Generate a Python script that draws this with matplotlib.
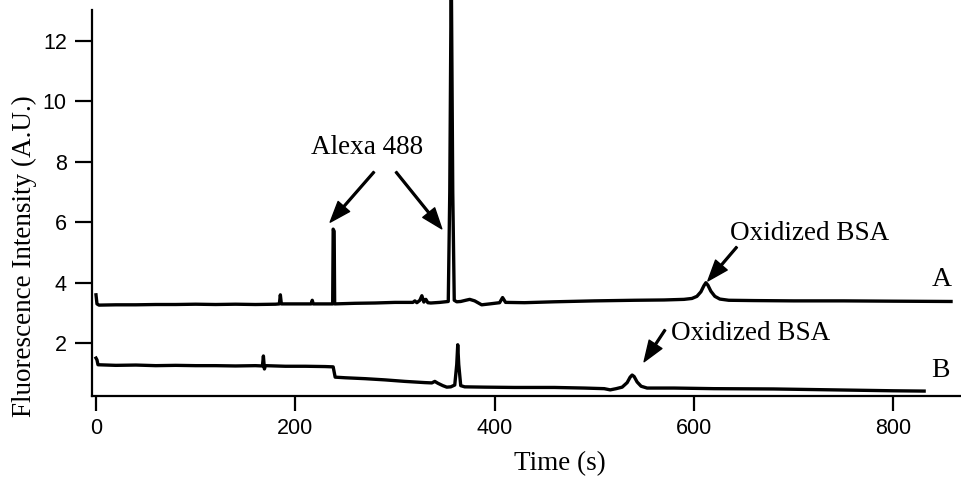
import matplotlib
matplotlib.use('Agg')
import matplotlib.pyplot as plt

# trace A (upper electropherogram)
time_a = [0, 1, 3, 20, 40, 60, 80, 100, 120, 140, 160, 180, 184, 185, 186,
          200, 216, 217, 218, 236, 237.5, 238, 239, 239.5, 260, 280, 300,
          318, 320, 322, 325, 327, 329, 331, 333, 336, 345, 353.5, 355, 356.5,
          358, 359.5, 362, 366, 371, 375, 380, 387, 395, 405, 408, 411, 430,
          460, 500, 540, 570, 590, 598, 603, 607, 610, 612, 614, 617, 621,
          626, 635, 660, 700, 750, 800, 858]
signal_a = [3.6, 3.3, 3.26, 3.27, 3.27, 3.28, 3.28, 3.29, 3.28, 3.29, 3.28,
            3.29, 3.3, 3.6, 3.3, 3.3, 3.3, 3.42, 3.3, 3.3, 3.3, 5.77, 5.7,
            3.3, 3.32, 3.33, 3.35, 3.35, 3.4, 3.34, 3.42, 3.57, 3.36, 3.45,
            3.34, 3.33, 3.35, 3.38, 7.0, 14.5, 7.0, 3.42, 3.37, 3.38, 3.42,
            3.45, 3.4, 3.27, 3.3, 3.34, 3.51, 3.35, 3.34, 3.37, 3.4, 3.42,
            3.43, 3.45, 3.48, 3.55, 3.7, 3.9, 4.0, 3.92, 3.72, 3.55, 3.46,
            3.42, 3.41, 3.40, 3.40, 3.39, 3.38]

# trace B (lower electropherogram)
time_b = [0, 1, 2, 20, 40, 60, 80, 100, 120, 140, 160, 167, 168, 169, 170,
          190, 210, 230, 238, 240, 250, 270, 290, 310, 330, 337, 340, 343,
          348, 352, 356, 360, 362, 363, 364, 366, 370, 390, 420, 460, 490,
          510, 516, 522, 528, 533, 536, 538, 540, 543, 547, 553, 580, 620,
          680, 740, 800, 831]
signal_b = [1.51, 1.45, 1.29, 1.27, 1.28, 1.26, 1.27, 1.26, 1.26, 1.25, 1.26,
            1.25, 1.58, 1.15, 1.26, 1.24, 1.24, 1.23, 1.22, 0.88, 0.86, 0.83,
            0.79, 0.74, 0.7, 0.69, 0.74, 0.68, 0.6, 0.55, 0.56, 0.62, 1.3,
            1.95, 1.3, 0.6, 0.56, 0.55, 0.54, 0.54, 0.52, 0.5, 0.46, 0.5, 0.55,
            0.7, 0.88, 0.95, 0.9, 0.72, 0.58, 0.52, 0.52, 0.5, 0.49, 0.46,
            0.43, 0.42]

x_ticks = [0, 200, 400, 600, 800]
y_ticks = [2, 4, 6, 8, 10, 12]

serif = 'Liberation Serif'
sans = 'Liberation Sans'

fig = plt.figure(figsize=(9.62, 4.82), dpi=100)
ax = fig.add_axes([91.8 / 962, 1 - 395.5 / 482, 1 - 91.8 / 962, 395.5 / 482])

ax.plot(time_a, signal_a, color='black', lw=2.4)
ax.plot(time_b, signal_b, color='black', lw=2.4)

ax.set_xlim(-4.2, 869)
ax.set_ylim(0.274, 13.34)

for side in ['top', 'right']:
  ax.spines[side].set_visible(False)
ax.spines['left'].set_linewidth(1.6)
ax.spines['bottom'].set_linewidth(1.6)
ax.spines['left'].set_bounds(0.274, 13.0)

ax.set_xticks(x_ticks)
ax.set_yticks(y_ticks)
ax.tick_params(axis='x', length=11, width=1.6, pad=5, labelsize=15.5)
ax.tick_params(axis='y', length=12, width=1.6, pad=6, labelsize=15.5)
for lab in ax.get_xticklabels() + ax.get_yticklabels():
  lab.set_family(sans)

fig.text(24 / 962, 1 - 256 / 482, 'Fluorescence Intensity (A.U.)', rotation=90,
         ha='center', va='center', fontsize=19.5, family=serif)
fig.text(560 / 962, 1 - 464 / 482, 'Time (s)', ha='center', va='center',
         fontsize=19.5, family=serif)

# peak labels
ax.text(272, 8.48, 'Alexa 488', ha='center', va='center', fontsize=19.5, family=serif)
ax.text(716, 5.61, 'Oxidized BSA', ha='center', va='center', fontsize=19.5, family=serif)
ax.text(657, 2.31, 'Oxidized BSA', ha='center', va='center', fontsize=19.5, family=serif)
ax.text(849, 4.09, 'A', ha='center', va='center', fontsize=20, family=serif)
ax.text(847, 1.09, 'B', ha='center', va='center', fontsize=20, family=serif)

arrow = dict(facecolor='black', edgecolor='black', width=1.3, headwidth=11,
             headlength=15, shrink=0)
ax.annotate('', xy=(235, 6.0), xytext=(279, 7.66), arrowprops=arrow)
ax.annotate('', xy=(347, 5.78), xytext=(301, 7.66), arrowprops=arrow)
ax.annotate('', xy=(614, 4.06), xytext=(643, 5.18), arrowprops=arrow)
ax.annotate('', xy=(550, 1.39), xytext=(571, 2.44), arrowprops=arrow)

fig.savefig('out.png', dpi=100)
